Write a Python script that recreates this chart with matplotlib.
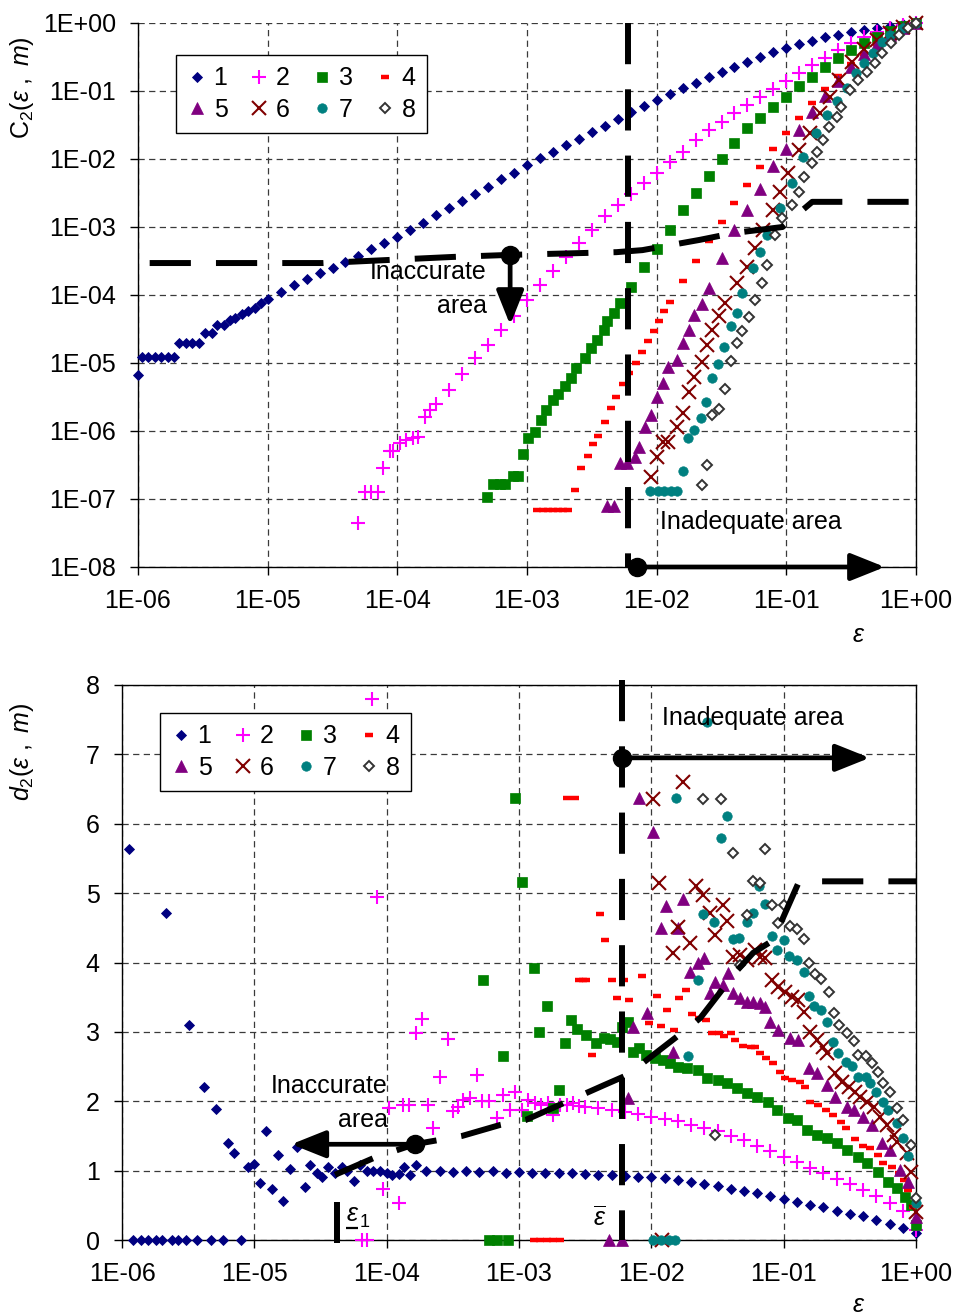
import numpy as np
import matplotlib
matplotlib.use("Agg")
import matplotlib.pyplot as plt
from matplotlib.patches import ArrowStyle
from matplotlib.ticker import NullLocator

plt.rcParams.update({
    "font.family": ["Liberation Sans", "DejaVu Sans"],
    "mathtext.fontset": "custom",
    "mathtext.rm": "Liberation Sans",
    "mathtext.it": "Liberation Sans:italic",
    "mathtext.bf": "Liberation Sans:bold",
    "font.size": 18,
})

# -----------------------------------------------------------------------------
# data (all epsilon values are log10(eps); top panel values are log10(C2))
# -----------------------------------------------------------------------------
SERIES = ["1", "2", "3", "4", "5", "6", "7", "8"]

GRID = [-6.0, -5.9, -5.8, -5.7, -5.6, -5.5, -5.4, -5.3, -5.2, -5.1,
        -5.0, -4.9, -4.8, -4.7, -4.6, -4.5, -4.4, -4.3, -4.2, -4.1,
        -4.0, -3.9, -3.8, -3.7, -3.6, -3.5, -3.4, -3.3, -3.2, -3.1,
        -3.0, -2.9, -2.8, -2.7, -2.6, -2.5, -2.4, -2.3, -2.2, -2.1,
        -2.0, -1.9, -1.8, -1.7, -1.6, -1.5, -1.4, -1.3, -1.2, -1.1,
        -1.0, -0.9, -0.8, -0.7, -0.6, -0.5, -0.4, -0.3, -0.2, -0.1,
        0.0]

# top panel: correlation integral C2(eps, m)
C2_M1_LE = [-6.0, -5.97, -5.92, -5.87, -5.82, -5.77, -5.72, -5.68, -5.63, -5.58,
            -5.53, -5.48, -5.43, -5.39, -5.34, -5.29, -5.25, -5.2, -5.15, -5.1,
            -5.05, -5.0] + GRID[11:]
C2_M1 = [-5.18, -4.91, -4.91, -4.91, -4.91, -4.91, -4.91, -4.71, -4.71, -4.71,
         -4.71, -4.56, -4.56, -4.44, -4.44, -4.37, -4.34, -4.28, -4.24, -4.19,
         -4.12, -4.06,
         -3.95, -3.86, -3.77, -3.68, -3.60, -3.51, -3.42, -3.33, -3.24, -3.15,
         -3.04, -2.94, -2.83, -2.72, -2.62, -2.51, -2.41, -2.30, -2.20, -2.09,
         -1.99, -1.89, -1.79, -1.70, -1.60, -1.51, -1.41, -1.31, -1.22, -1.13,
         -1.04, -0.96, -0.88, -0.80, -0.72, -0.65, -0.57, -0.50, -0.43, -0.37,
         -0.31, -0.26, -0.21, -0.17, -0.13, -0.10, -0.07, -0.04, -0.02, 0.0]

C2_M2_LE = [-4.30, -4.25, -4.20, -4.15, -4.11, -4.06, -4.03, -3.98, -3.93, -3.88,
            -3.84, -3.79, -3.75] + GRID[23:]
C2_M2 = [-7.35, -6.90, -6.90, -6.90, -6.54, -6.29, -6.29, -6.18, -6.13, -6.10,
         -6.09, -5.79, -5.69,
         -5.60, -5.40, -5.16, -4.93, -4.73, -4.52, -4.31, -4.07,
         -3.86, -3.65, -3.44, -3.24, -3.04, -2.84, -2.67, -2.51, -2.36, -2.21,
         -2.05, -1.89, -1.72, -1.57, -1.45, -1.33, -1.21, -1.09, -0.97, -0.85,
         -0.73, -0.62, -0.51, -0.40, -0.30, -0.21, -0.13, -0.07, -0.03, 0.0]

C2_M3_LE = [-3.31, -3.26, -3.21, -3.17, -3.11, -3.07, -3.03, -2.99, -2.94, -2.89,
            -2.85, -2.80, -2.76, -2.71, -2.66, -2.62, -2.55, -2.51, -2.46, -2.41,
            -2.38, -2.33, -2.28] + GRID[38:]
C2_M3 = [-6.97, -6.78, -6.78, -6.78, -6.66, -6.66, -6.34, -6.10, -6.01, -5.84,
         -5.69, -5.54, -5.46, -5.34, -5.22, -5.07, -4.93, -4.78, -4.66, -4.51,
         -4.38, -4.26, -4.12,
         -3.88, -3.59,
         -3.32, -3.04, -2.75, -2.50, -2.25, -2.00, -1.77, -1.55, -1.40, -1.24,
         -1.09, -0.93, -0.79, -0.65, -0.52, -0.40, -0.29, -0.20, -0.12, -0.05,
         0.0]

C2_M4_LE = [-2.92, -2.88, -2.84, -2.80, -2.76, -2.72, -2.68, -2.63, -2.58, -2.53,
            -2.49, -2.45, -2.40, -2.35, -2.31, -2.26, -2.21, -2.16, -2.11, -2.07,
            -2.02, -1.98, -1.94] + GRID[41:]
C2_M4 = [-7.16, -7.16, -7.16, -7.16, -7.16, -7.16, -7.16, -6.87, -6.54, -6.37,
         -6.19, -6.07, -5.87, -5.66, -5.50, -5.31, -5.15, -5.00, -4.84, -4.68,
         -4.53, -4.38, -4.24,
         -4.11, -3.80, -3.50, -3.20, -2.92, -2.65, -2.38, -2.12, -1.86,
         -1.62, -1.39, -1.17, -0.97, -0.78, -0.61, -0.45, -0.31, -0.19, -0.08,
         0.0]

C2_M5_LE = [-2.38, -2.33, -2.28, -2.23, -2.17, -2.14, -2.09, -2.04, -2.00, -1.95,
            -1.91, -1.84, -1.80, -1.75, -1.71, -1.65] + GRID[44:]
C2_M5 = [-7.10, -7.10, -6.47, -6.47, -6.38, -6.24, -5.94, -5.76, -5.50, -5.29,
         -5.06, -4.96, -4.71, -4.51, -4.29, -4.13,
         -3.89, -3.45, -3.04, -2.75, -2.44, -2.10,
         -1.85, -1.57, -1.31, -1.08, -0.86, -0.65, -0.46, -0.31, -0.18, -0.08,
         0.0]

C2_M6_LE = [-2.04, -2.00, -1.95, -1.91, -1.84, -1.80, -1.75, -1.71, -1.65, -1.61,
            -1.57, -1.52, -1.47, -1.38, -1.30, -1.24, -1.18, -1.10, -1.05, -0.99,
            -0.90, -0.82, -0.74, -0.66, -0.59, -0.49] + GRID[56:]
C2_M6 = [-6.68, -6.38, -6.16, -6.16, -5.94, -5.74, -5.43, -5.21, -4.98, -4.74,
         -4.51, -4.31, -4.12, -3.82, -3.59, -3.31, -3.04, -2.75, -2.49, -2.21,
         -1.87, -1.62, -1.33, -1.09, -0.84, -0.57,
         -0.38, -0.25, -0.14, -0.06, 0.0]

C2_M7_LE = [-2.05, -1.99, -1.94, -1.89, -1.84, -1.80, -1.76, -1.71, -1.66, -1.62,
            -1.57, -1.53, -1.48, -1.43, -1.38, -1.34, -1.26, -1.20, -1.15, -1.05,
            -0.96, -0.87, -0.77, -0.69, -0.61, -0.53, -0.46, -0.40, -0.33, -0.26] + GRID[58:]
C2_M7 = [-6.88, -6.88, -6.88, -6.88, -6.88, -6.59, -6.10, -5.99, -5.81, -5.57,
         -5.22, -5.01, -4.76, -4.46, -4.26, -3.97, -3.60, -3.37, -3.12, -2.72,
         -2.35, -1.97, -1.62, -1.36, -1.14, -0.96, -0.74, -0.59, -0.44, -0.28,
         -0.18, -0.08, 0.0]

C2_M8_LE = [-1.65, -1.61, -1.57, -1.52, -1.47, -1.43, -1.38, -1.34, -1.29, -1.24,
            -1.19, -1.15, -1.09, -1.03, -0.96, -0.90, -0.86, -0.80, -0.76, -0.72,
            -0.67, -0.61, -0.58, -0.51, -0.45, -0.38, -0.32, -0.26, -0.19, -0.13,
            -0.06, 0.0]
C2_M8 = [-6.79, -6.50, -5.76, -5.68, -5.38, -4.97, -4.71, -4.53, -4.32, -4.07,
         -3.82, -3.56, -3.12, -2.87, -2.68, -2.48, -2.26, -2.06, -1.90, -1.72,
         -1.53, -1.38, -1.24, -0.99, -0.84, -0.72, -0.59, -0.44, -0.30, -0.18,
         -0.08, 0.0]

# bottom panel: local slope d2(eps, m)
D2_M1_LE = [-5.95, -5.92, -5.86, -5.80, -5.74, -5.70, -5.67, -5.62, -5.58, -5.52,
            -5.49, -5.43, -5.38, -5.33, -5.29, -5.24, -5.20, -5.15, -5.10, -5.05,
            -5.00, -4.96, -4.91, -4.87, -4.82, -4.78, -4.73, -4.68, -4.62, -4.58,
            -4.53, -4.49, -4.44, -4.39, -4.34, -4.30, -4.25, -4.20, -4.15, -4.10,
            -4.05, -4.00, -3.96, -3.91, -3.87, -3.82, -3.78] + GRID[23:]
D2_M1 = [5.63, 0.0, 0.0, 0.0, 0.0, 0.0, 4.71, 0.0, 0.0, 0.0,
         3.10, 0.0, 2.20, 0.0, 1.89, 0.0, 1.40, 1.25, 0.0, 1.05,
         1.10, 0.82, 1.57, 0.73, 1.22, 0.56, 1.02, 1.34, 0.76, 1.08,
         0.96, 0.91, 1.05, 0.97, 1.05, 1.00, 0.85, 1.08, 1.00, 1.00,
         0.99, 0.96, 0.94, 0.95, 1.05, 0.94, 1.08,
         1.00, 0.99, 0.98, 1.00, 0.98, 0.99, 0.97, 0.98,
         0.97, 0.96, 0.97, 0.96, 0.95, 0.94, 0.93, 0.92, 0.91, 0.91,
         0.89, 0.87, 0.84, 0.81, 0.78, 0.74, 0.71, 0.68, 0.63, 0.59,
         0.55, 0.50, 0.47, 0.42, 0.38, 0.34, 0.29, 0.23, 0.17, 0.10]

D2_M2_LE = [-4.19, -4.15, -4.11, -4.07, -4.03, -3.98, -3.91, -3.88, -3.83, -3.78,
            -3.73, -3.69, -3.65, -3.60, -3.54, -3.50, -3.46, -3.42, -3.37, -3.32,
            -3.28, -3.23, -3.17, -3.12, -3.07, -3.03, -2.98, -2.93, -2.88, -2.83,
            -2.78, -2.74, -2.69, -2.64, -2.59, -2.55] + GRID[35:]
D2_M2 = [0.0, 0.0, 7.80, 4.94, 0.73, 1.90, 0.53, 1.95, 1.95, 2.98,
         3.18, 1.95, 1.61, 2.35, 2.90, 1.86, 1.92, 2.02, 2.05, 2.38,
         2.00, 2.00, 1.76, 2.09, 1.87, 2.13, 1.87, 2.02, 1.97, 1.95,
         1.97, 1.80, 1.95, 1.95, 1.97, 1.93,
         1.92, 1.90, 1.87, 1.84, 1.81,
         1.77, 1.74, 1.71, 1.66, 1.62, 1.57, 1.50, 1.44, 1.36, 1.28,
         1.20, 1.12, 1.04, 0.97, 0.88, 0.81, 0.72, 0.63, 0.54, 0.42,
         0.14]

D2_M3_LE = [-3.27, -3.23, -3.17, -3.12, -3.08, -3.03, -2.98, -2.94, -2.89, -2.85,
            -2.79, -2.74, -2.70, -2.65, -2.61, -2.56, -2.49, -2.42, -2.36, -2.31,
            -2.26, -2.22, -2.18, -2.14, -2.09, -2.04, -1.97, -1.91, -1.86, -1.80,
            -1.73, -1.65, -1.58, -1.50, -1.43, -1.35, -1.28, -1.20, -1.12, -1.05,
            -0.97, -0.90, -0.82, -0.75, -0.67, -0.60, -0.52, -0.44, -0.37, -0.29,
            -0.21, -0.14, -0.08, -0.04, 0.0]
D2_M3 = [3.75, 0.0, 0.0, 2.65, 0.0, 6.37, 5.16, 1.79, 3.92, 3.00,
         3.37, 1.90, 2.16, 2.84, 3.17, 3.04, 2.95, 2.84, 2.91, 2.90,
         2.85, 3.07, 3.14, 2.71, 2.77, 2.67, 2.62, 2.59, 2.55, 2.49,
         2.48, 2.45, 2.33, 2.30, 2.26, 2.19, 2.12, 2.06, 1.99, 1.87,
         1.76, 1.73, 1.58, 1.51, 1.47, 1.40, 1.30, 1.20, 1.11, 0.98,
         0.84, 0.75, 0.62, 0.50, 0.22]

D2_M4_LE = [-2.89, -2.84, -2.79, -2.74, -2.69, -2.64, -2.58, -2.55, -2.52, -2.49,
            -2.45, -2.39, -2.35, -2.30, -2.26, -2.21, -2.17, -2.07, -2.02, -1.96,
            -1.93, -1.88, -1.83, -1.79, -1.74, -1.69, -1.64, -1.59, -1.54, -1.49,
            -1.45, -1.40, -1.37, -1.31, -1.25, -1.22, -1.18, -1.13, -1.08, -1.03,
            -0.99, -0.94, -0.88, -0.84, -0.80, -0.74, -0.68, -0.63, -0.57, -0.53,
            -0.46, -0.40, -0.35, -0.29, -0.25, -0.18, -0.13, -0.09, -0.06, -0.02]
D2_M4 = [0.0, 0.0, 0.0, 0.0, 0.0, 6.37, 6.37, 3.75, 3.75, 3.75,
         2.67, 4.70, 4.32, 3.75, 3.49, 3.75, 3.46, 3.80, 3.13, 3.52,
         3.08, 3.31, 3.03, 3.49, 3.60, 3.26, 3.20, 3.17, 2.98, 2.98,
         2.94, 2.98, 2.88, 2.80, 2.78, 2.78, 2.69, 2.62, 2.55, 2.42,
         2.33, 2.31, 2.28, 2.20, 1.99, 1.95, 1.88, 1.80, 1.70, 1.61,
         1.46, 1.36, 1.33, 1.22, 1.11, 1.05, 0.96, 0.86, 0.72, 0.48]

D2_M5_LE = [-2.32, -2.22, -2.18, -2.14, -2.09, -2.03, -1.99, -1.93, -1.89, -1.84,
            -1.80, -1.76, -1.71, -1.65, -1.60, -1.56, -1.52, -1.46, -1.42, -1.38,
            -1.33, -1.28, -1.23, -1.18, -1.14, -1.10, -1.04, -0.95, -0.89, -0.81,
            -0.75, -0.67, -0.61, -0.52, -0.47, -0.40, -0.33, -0.26, -0.20, -0.12,
            -0.06, 0.0]
D2_M5 = [0.0, 0.0, 2.05, 3.07, 6.37, 3.27, 5.88, 4.50, 4.81, 2.71,
         4.50, 4.91, 3.86, 3.99, 4.06, 3.56, 3.72, 3.67, 3.85, 3.56,
         3.49, 3.43, 3.43, 3.41, 3.36, 3.14, 3.03, 2.91, 2.88, 2.48,
         2.41, 2.23, 2.06, 1.92, 1.87, 1.77, 1.66, 1.40, 1.30, 1.01,
         0.84, 0.33]

D2_M6_LE = [-1.99, -1.94, -1.92, -1.84, -1.80, -1.76, -1.71, -1.66, -1.61, -1.56,
            -1.52, -1.46, -1.43, -1.38, -1.33, -1.28, -1.22, -1.18, -1.14, -1.09,
            -1.04, -0.99, -0.94, -0.89, -0.85, -0.80, -0.75, -0.70, -0.67, -0.61,
            -0.56, -0.51, -0.46, -0.42, -0.37, -0.32, -0.27, -0.22, -0.17, -0.14,
            -0.07, -0.04, 0.0]
D2_M6 = [6.36, 5.14, 0.0, 4.14, 4.51, 6.60, 4.28, 5.10, 4.97, 4.72,
         4.39, 4.83, 4.60, 4.08, 4.11, 4.03, 4.18, 4.08, 4.07, 3.75,
         3.65, 3.58, 3.50, 3.46, 3.29, 3.00, 2.88, 2.78, 2.69, 2.41,
         2.28, 2.21, 2.13, 2.06, 1.99, 1.92, 1.77, 1.66, 1.51, 1.41,
         1.25, 0.98, 0.40]

D2_M7_LE = [-1.99, -1.93, -1.87, -1.82, -1.81, -1.72, -1.65, -1.61, -1.58, -1.53,
            -1.47, -1.43, -1.38, -1.34, -1.28, -1.23, -1.19, -1.14, -1.09, -1.05,
            -1.00, -0.96, -0.90, -0.85, -0.81, -0.77, -0.72, -0.67, -0.63, -0.59,
            -0.53, -0.48, -0.44, -0.38, -0.35, -0.30, -0.25, -0.21, -0.14, -0.10,
            -0.06, 0.0]
D2_M7 = [0.0, 0.0, 0.0, 0.0, 6.37, 2.65, 3.75, 4.70, 7.46, 4.58,
         5.79, 6.11, 4.34, 4.36, 4.58, 4.72, 5.10, 4.85, 4.38, 4.18,
         4.33, 4.10, 4.03, 3.86, 3.52, 3.37, 3.31, 3.14, 2.85, 2.69,
         2.56, 2.51, 2.35, 2.35, 2.26, 2.13, 1.99, 1.87, 1.69, 1.47,
         1.21, 0.53]

D2_M8_LE = [-1.61, -1.52, -1.47, -1.38, -1.33, -1.28, -1.23, -1.18, -1.14, -1.09,
            -1.04, -1.00, -0.95, -0.90, -0.85, -0.81, -0.76, -0.72, -0.66, -0.62,
            -0.58, -0.52, -0.47, -0.44, -0.38, -0.33, -0.29, -0.25, -0.20, -0.14,
            -0.10, -0.04, 0.0]
D2_M8 = [6.35, 1.51, 6.35, 5.58, 3.96, 4.68, 5.17, 5.14, 5.63, 4.83,
         4.57, 4.83, 4.53, 4.49, 4.34, 3.99, 3.83, 3.76, 3.58, 3.27,
         3.10, 2.98, 2.87, 2.67, 2.65, 2.55, 2.42, 2.26, 2.13, 1.90,
         1.73, 1.37, 0.60]

# boundary curves and reference epsilons
TOP_BOUND_LE = [-5.91, -4.57, -3.57, -3.13, -2.31, -2.11, -1.67, -1.41, -1.03, -0.80, 0.0]
TOP_BOUND_C2 = [-3.53, -3.53, -3.44, -3.41, -3.37, -3.34, -3.19, -3.09, -3.00, -2.63, -2.63]
BOT_BOUND_LE = [-4.39, -4.10, -3.79, -3.43, -3.14, -2.95, -2.36, -2.18, -1.76, -1.63,
                -1.35, -1.23, -1.08, -0.89, -0.80, 0.0]
BOT_BOUND_D2 = [0.94, 1.18, 1.38, 1.50, 1.66, 1.73, 2.23, 2.38, 3.00, 3.20,
                3.89, 4.14, 4.32, 5.14, 5.17, 5.17]
EPS_BAR_LE = -2.22
EPS_1_LE = -4.375

X_TICK_EXP = [-6, -5, -4, -3, -2, -1, 0]
X_TICK_LABELS = ["1E-06", "1E-05", "1E-04", "1E-03", "1E-02", "1E-01", "1E+00"]
Y1_TICK_EXP = [-8, -7, -6, -5, -4, -3, -2, -1, 0]
Y1_TICK_LABELS = ["1E-08", "1E-07", "1E-06", "1E-05", "1E-04", "1E-03", "1E-02", "1E-01", "1E+00"]
Y2_TICKS = [0, 1, 2, 3, 4, 5, 6, 7, 8]
Y2_TICK_LABELS = ["0", "1", "2", "3", "4", "5", "6", "7", "8"]

TOP_LE = [C2_M1_LE, C2_M2_LE, C2_M3_LE, C2_M4_LE, C2_M5_LE, C2_M6_LE, C2_M7_LE, C2_M8_LE]
TOP_C2 = [C2_M1, C2_M2, C2_M3, C2_M4, C2_M5, C2_M6, C2_M7, C2_M8]
BOT_LE = [D2_M1_LE, D2_M2_LE, D2_M3_LE, D2_M4_LE, D2_M5_LE, D2_M6_LE, D2_M7_LE, D2_M8_LE]
BOT_D2 = [D2_M1, D2_M2, D2_M3, D2_M4, D2_M5, D2_M6, D2_M7, D2_M8]

# -----------------------------------------------------------------------------
# styles
# -----------------------------------------------------------------------------
STYLES = [
    dict(marker="D", color="#000080", ms=5.0, mew=0.6),
    dict(marker="+", color="#FF00FF", ms=10.5, mew=1.5),
    dict(marker="s", color="#008000", ms=6.5, mew=0.5),
    dict(marker="_", color="#FF0000", ms=6.0, mew=3.2),
    dict(marker="^", color="#800080", ms=8.0, mew=0.5),
    dict(marker="x", color="#800000", ms=10.5, mew=1.5),
    dict(marker="o", color="#008080", ms=6.8, mew=0.5),
    dict(marker="D", color="#333333", mfc="white", mec="#333333", ms=4.6, mew=1.4),
]
THICK = dict(color="black", lw=4.3, dashes=(6.9, 4.2), solid_capstyle="butt",
             dash_capstyle="butt", zorder=6)


def eps(le):
    return 10.0 ** np.asarray(le, dtype=float)


def style_axes(ax):
    ax.set_xscale("log")
    ax.set_xlim(1e-6, 1.0)
    ax.set_xticks(eps(X_TICK_EXP))
    ax.set_xticklabels(X_TICK_LABELS)
    ax.xaxis.set_minor_locator(NullLocator())
    ax.tick_params(direction="out", length=6, width=1, pad=10, labelsize=18)
    ax.grid(True, which="major", ls=(0, (5, 3.5)), lw=0.9, color="#3a3a3a")
    ax.set_axisbelow(True)
    for sp in ax.spines.values():
        sp.set_linewidth(1.0)
        sp.set_color("black")


def arrow(ax, start, tip):
    ann = ax.annotate("", xy=tip, xytext=start,
                      arrowprops=dict(arrowstyle=ArrowStyle("-|>", head_length=0.95, head_width=0.38),
                                      mutation_scale=22, lw=3.4, color="black",
                                      shrinkA=0, shrinkB=0),
                      annotation_clip=False, zorder=7)
    ann.arrow_patch.set_clip_on(False)


def add_legend(ax, anchor):
    h, l = ax.get_legend_handles_labels()
    order = [0, 4, 1, 5, 2, 6, 3, 7]
    leg = ax.legend([h[i] for i in order], [l[i] for i in order], ncol=4,
                    loc="upper left", bbox_to_anchor=anchor, borderaxespad=0,
                    fancybox=False, edgecolor="black", framealpha=1,
                    handlelength=0.75, handletextpad=0.3, columnspacing=0.9,
                    labelspacing=0.3, borderpad=0.45, fontsize=18, numpoints=1)
    leg.get_frame().set_linewidth(1.0)
    leg.set_zorder(10)


fig = plt.figure(figsize=(9.55, 13.15), dpi=100)
ax1 = fig.add_axes([138 / 955, 1 - 567 / 1315, 778 / 955, 544 / 1315])
ax2 = fig.add_axes([122 / 955, 1 - 1240 / 1315, 794 / 955, 555 / 1315])

# -----------------------------------------------------------------------------
# top panel
# -----------------------------------------------------------------------------
style_axes(ax1)
ax1.set_yscale("log")
ax1.set_ylim(1e-8, 1.0)
ax1.set_yticks(eps(Y1_TICK_EXP))
ax1.set_yticklabels(Y1_TICK_LABELS)
ax1.yaxis.set_minor_locator(NullLocator())
ax1.spines["top"].set_visible(False)

for k in range(8):
    ax1.plot(eps(TOP_LE[k]), eps(TOP_C2[k]), linestyle="none", label=SERIES[k],
             clip_on=False, zorder=3, **STYLES[k])

ax1.plot(eps(TOP_BOUND_LE), eps(TOP_BOUND_C2), **THICK)
ax1.plot(eps([EPS_BAR_LE, EPS_BAR_LE]), [1.0, 1e-8], **THICK)

ax1.plot([eps(-3.13)], [eps(-3.41)], "o", color="black", ms=13, zorder=8)
arrow(ax1, (eps(-3.13), eps(-3.41)), (eps(-3.13), eps(-4.44)))
ax1.text(eps(-3.31), eps(-3.66), "Inaccurate", ha="right", va="center", fontsize=18, zorder=7)
ax1.text(eps(-3.31), eps(-4.16), "area", ha="right", va="center", fontsize=18, zorder=7)

ax1.plot([eps(-2.15)], [1e-8], "o", color="black", ms=13, zorder=8, clip_on=False)
arrow(ax1, (eps(-2.15), 1e-8), (eps(-0.24), 1e-8))
ax1.text(eps(-1.975), eps(-7.34), "Inadequate area", ha="left", va="center", fontsize=18, zorder=7)

add_legend(ax1, (0.049, 0.941))

# -----------------------------------------------------------------------------
# bottom panel
# -----------------------------------------------------------------------------
style_axes(ax2)
ax2.set_ylim(0, 8)
ax2.set_yticks(Y2_TICKS)
ax2.set_yticklabels(Y2_TICK_LABELS)

for k in range(8):
    ax2.plot(eps(BOT_LE[k]), BOT_D2[k], linestyle="none", label=SERIES[k],
             clip_on=False, zorder=3, **STYLES[k])

ax2.plot(eps(BOT_BOUND_LE), BOT_BOUND_D2, **THICK)
ax2.plot(eps([EPS_BAR_LE, EPS_BAR_LE]), [8.07, 0.0], clip_on=False, **THICK)
ax2.plot(eps([EPS_1_LE, EPS_1_LE]), [-0.04, 0.55], color="black", lw=4.3,
         solid_capstyle="butt", clip_on=False, zorder=6)

ax2.plot([eps(-3.785)], [1.38], "o", color="black", ms=13, zorder=8)
arrow(ax2, (eps(-3.785), 1.38), (eps(-4.72), 1.38))
ax2.text(eps(-3.99), 2.22, "Inaccurate", ha="right", va="center", fontsize=18, zorder=7)
ax2.text(eps(-3.99), 1.73, "area", ha="right", va="center", fontsize=18, zorder=7)

ax2.plot([eps(EPS_BAR_LE)], [6.95], "o", color="black", ms=13, zorder=8)
arrow(ax2, (eps(EPS_BAR_LE), 6.95), (eps(-0.35), 6.95))
ax2.text(eps(-1.918), 7.52, "Inadequate area", ha="left", va="center", fontsize=18, zorder=7)

# epsilon_1 and epsilon-bar labels
ax2.text(eps(-4.262), 0.37, "\u03b5", style="italic", ha="center", va="center", fontsize=18)
ax2.plot(eps([-4.307, -4.216]), [0.17, 0.17], color="black", lw=1.6, solid_capstyle="butt")
ax2.text(eps(-4.163), 0.25, "1", ha="center", va="center", fontsize=13)
ax2.text(eps(-2.387), 0.31, r"$\overline{\varepsilon}$", ha="center", va="center", fontsize=18)

add_legend(ax2, (0.048, 0.9495))

# -----------------------------------------------------------------------------
# axis titles
# -----------------------------------------------------------------------------
fig.text(22 / 955, 1 - 88 / 1315,
         r"$\mathregular{C}_{\mathregular{2}}\mathregular{(}\varepsilon\ ,\ m\mathregular{)}$",
         rotation=90, ha="center", va="center", fontsize=18)
fig.text(22 / 955, 1 - 752 / 1315,
         r"$d_{\mathregular{2}}\mathregular{(}\varepsilon\ ,\ m\mathregular{)}$",
         rotation=90, ha="center", va="center", fontsize=18)
fig.text(858 / 955, 1 - 635 / 1315, "\u03b5", style="italic", ha="center", va="center", fontsize=18)
fig.text(858 / 955, 1 - 1305 / 1315, "\u03b5", style="italic", ha="center", va="center", fontsize=18)

fig.savefig("out.png", dpi=100)
